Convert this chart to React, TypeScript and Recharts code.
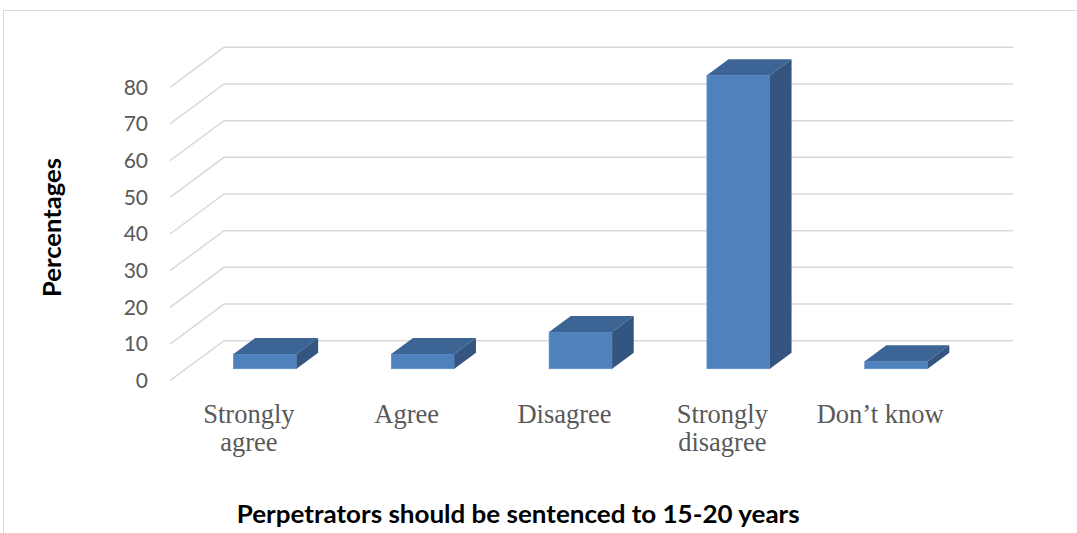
import React from "react";
import { BarChart, Bar, XAxis, YAxis, CartesianGrid } from "recharts";

const categories = [
  "Strongly\nagree",
  "Agree",
  "Disagree",
  "Strongly\ndisagree",
  "Don’t know",
];
const percentages = [4, 4, 10, 80, 2];
const yTicks = [0, 10, 20, 30, 40, 50, 60, 70, 80];

const data = categories.map((name, i) => ({ name, value: percentages[i] }));

// 3D look: floor depth offset, and where the bars sit inside that depth
const FLOOR_DX = 54;
const FLOOR_DY = -40;
const BAR_SHIFT_X = FLOOR_DX * 0.3;
const BAR_SHIFT_Y = FLOOR_DY * 0.3;
const BAR_DEPTH_X = FLOOR_DX * 0.4;
const BAR_DEPTH_Y = FLOOR_DY * 0.4;

const COLORS = {
  front: "#4F81BD",
  top: "#3C6494",
  side: "#34557F",
  grid: "#D9D9D9",
  label: "#595959",
};

const Box3D = (props: any) => {
  const { x, y, width, height } = props;
  const fx = x + BAR_SHIFT_X;
  const fy = y + BAR_SHIFT_Y;
  const dx = BAR_DEPTH_X;
  const dy = BAR_DEPTH_Y;
  const top = `M${fx},${fy} L${fx + width},${fy} L${fx + width + dx},${fy + dy} L${fx + dx},${fy + dy} Z`;
  const side = `M${fx + width},${fy} L${fx + width + dx},${fy + dy} L${fx + width + dx},${fy + height + dy} L${fx + width},${fy + height} Z`;
  return (
    <g>
      <rect
        x={fx}
        y={fy}
        width={width}
        height={height}
        fill={COLORS.front}
        stroke="#5B8DCA"
        strokeWidth={0.75}
      />
      <path d={top} fill={COLORS.top} />
      <path d={side} fill={COLORS.side} />
    </g>
  );
};

// gridline runs up the side wall then across the back wall
const GridLine3D = (props: any) => {
  const { x1, y1, x2 } = props;
  const d = `M${x1},${y1} L${x1 + FLOOR_DX},${y1 + FLOOR_DY} L${x2 + FLOOR_DX},${y1 + FLOOR_DY}`;
  return (
    <path
      key={props.key}
      d={d}
      fill="none"
      stroke={COLORS.grid}
      strokeWidth={1.5}
    />
  );
};

const CategoryTick = (props: any) => {
  const { x, y, payload } = props;
  const lines = String(payload.value).split("\n");
  return (
    <g>
      {lines.map((line, i) => (
        <text
          key={i}
          x={x}
          y={y + 42.3 + i * 27.5}
          textAnchor="middle"
          fill={COLORS.label}
          fontFamily="'Liberation Serif', 'Times New Roman', serif"
          fontSize={26.5}
        >
          {line}
        </text>
      ))}
    </g>
  );
};

export default function App() {
  return (
    <div
      style={{
        position: "absolute",
        left: 0,
        top: 0,
        width: 1077,
        height: 533,
        background: "#fff",
      }}
    >
      <svg
        width={1077}
        height={533}
        style={{ position: "absolute", left: 0, top: 0 }}
      >
        <path d="M3.5,533 L3.5,10.5 L1077,10.5" fill="none" stroke="#D9D9D9" />
        <text
          x={60.7}
          y={227.5}
          transform="rotate(-90, 60.7, 227.5)"
          textAnchor="middle"
          fontFamily="Lato, sans-serif"
          fontWeight="bold"
          fontSize={24}
          fill="#000"
          textLength={139}
          lengthAdjust="spacingAndGlyphs"
        >
          Percentages
        </text>
        <text
          x={236.7}
          y={523}
          fontFamily="Lato, sans-serif"
          fontWeight="bold"
          fontSize={24}
          fill="#000"
          textLength={563}
          lengthAdjust="spacingAndGlyphs"
        >
          Perpetrators should be sentenced to 15-20 years
        </text>
      </svg>
      <div style={{ position: "absolute", left: 0, top: 0 }}>
        <BarChart
          width={1077}
          height={533}
          data={data}
          margin={{ top: 87.3, right: 118, bottom: 52.3, left: 110 }}
          barCategoryGap="30%"
        >
          <CartesianGrid vertical={false} horizontal={GridLine3D} />
          <XAxis
            dataKey="name"
            axisLine={false}
            tickLine={false}
            tickSize={0}
            tickMargin={0}
            height={100}
            interval={0}
            tick={CategoryTick}
          />
          <YAxis
            domain={[0, 80]}
            ticks={yTicks}
            axisLine={false}
            tickLine={false}
            tickSize={0}
            tickMargin={22}
            width={60}
            tick={{
              fill: COLORS.label,
              fontSize: 21,
              fontFamily: "Lato, sans-serif",
            }}
          />
          <Bar
            dataKey="value"
            shape={Box3D}
            isAnimationActive={false}
          />
        </BarChart>
      </div>
    </div>
  );
}
